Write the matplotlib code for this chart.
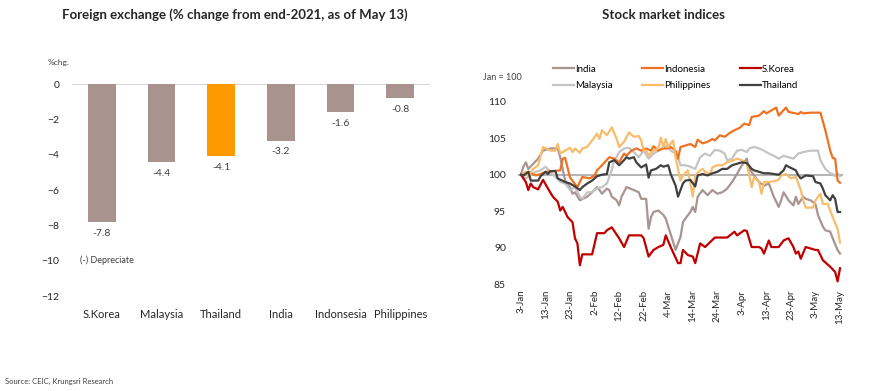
import matplotlib
matplotlib.use('Agg')
import matplotlib.pyplot as plt
import pandas as pd

plt.rcParams['font.family'] = ['Lato', 'DejaVu Sans']

# left chart: FX % change
fx_countries = ['S.Korea', 'Malaysia', 'Thailand', 'India', 'Indonsesia', 'Philippines']
fx_change = [-7.8, -4.4, -4.1, -3.2, -1.6, -0.8]

# right chart: stock indices (days after 3-Jan-2022, value with Jan = 100)
india_days = [0, 1, 2, 3, 5, 7, 9, 12, 15, 16, 17, 18, 20, 21, 22, 24, 27, 29, 31, 32, 33, 35, 36, 37, 39, 40,
              41, 43, 46, 48, 49, 51, 52, 53, 54, 56, 58, 59, 60, 62, 63, 65, 66, 67, 69, 70, 71, 72, 74, 76,
              78, 80, 82, 84, 86, 88, 90, 92, 93, 95, 97, 99, 101, 102, 103, 105, 106, 107, 109, 111, 112, 113,
              115, 116, 118, 120, 121, 123, 124, 126, 127, 129, 130]
india_vals = [100, 101.1, 101.7, 100.8, 101.5, 102.2, 103.3, 103.6, 103.6, 102.4, 100.8, 99.2, 98.3, 97.4, 97.6,
              96.5, 97, 97.6, 98.3, 97.9, 97.4, 98.1, 97.9, 97, 96.5, 95.8, 97, 98.3, 97.9, 97.6, 96.7, 96.7,
              92.6, 94.2, 94.9, 95.1, 94.5, 94, 92.9, 90.8, 89.7, 91.5, 93.5, 94, 94.9, 95.6, 94.9, 97, 97.9,
              97.2, 97.9, 97.4, 97.6, 98.1, 99, 100.1, 101.3, 102.2, 100.8, 99.9, 99, 98.5, 98.8, 97.9, 97,
              95.6, 96.5, 97.6, 96.5, 95.8, 97, 96, 97, 96.7, 96.5, 96, 94.5, 92.9, 92.4, 92.2, 91.3, 89.7, 89.2]

indonesia_days = [0, 3, 6, 8, 10, 16, 17, 18, 20, 23, 24, 25, 28, 30, 31, 33, 36, 38, 40, 42, 43, 45, 47, 49, 51,
                  53, 54, 56, 58, 60, 61, 63, 64, 65, 67, 69, 71, 72, 74, 76, 78, 79, 81, 83, 85, 87, 89, 91, 93,
                  94, 97, 99, 100, 102, 104, 105, 108, 109, 112, 113, 114, 115, 118, 122, 124, 126, 127, 128,
                  129, 130]
indonesia_vals = [100, 100.4, 99.9, 100.1, 100.4, 100.6, 102.2, 102.3, 99.6, 98.3, 99, 99.7, 99.5, 99.9, 100.6,
                  101.3, 102.4, 102.2, 101.7, 102.9, 102.6, 103.3, 103.6, 103.3, 103.6, 103.3, 103.9, 103.3,
                  103.6, 103.6, 103.8, 103.3, 102.2, 103.8, 104, 104.2, 103.8, 104.8, 104.3, 104.5, 104.9, 104.7,
                  105.4, 105.2, 105.7, 106.1, 106.4, 107, 106.8, 107.9, 108.1, 108.7, 108.4, 108.8, 109.2, 108.1,
                  109.2, 108.6, 108.4, 108.3, 108.6, 108.4, 108.5, 108.5, 106.1, 103.3, 102.3, 102.2, 99.2, 98.9]

korea_days = [0, 2, 3, 4, 5, 7, 9, 11, 13, 15, 16, 17, 19, 21, 22, 23, 24, 25, 29, 31, 34, 35, 37, 40, 42, 44,
              49, 50, 52, 54, 56, 58, 59, 61, 64, 65, 66, 68, 70, 71, 73, 75, 79, 84, 87, 88, 91, 92, 94, 97,
              98, 99, 101, 102, 105, 107, 109, 111, 112, 113, 114, 116, 118, 120, 121, 123, 126, 128, 129, 130]
korea_vals = [100, 99, 97.9, 98.8, 98.3, 98, 99.3, 98.1, 97, 96.3, 95.1, 95.6, 94.2, 93.5, 91.3, 90.6, 87.6, 89.1,
              89.1, 92, 92, 92.4, 92.8, 91.3, 90.1, 91.7, 91.7, 91.3, 88.8, 89.7, 90.1, 90.4, 91.7, 90.1, 87.9,
              87.9, 89.7, 89, 88.8, 87.9, 90.6, 90.1, 91.4, 91.4, 92.2, 91.7, 92.4, 92.3, 90.1, 90.1, 89.9,
              89.2, 91, 90.1, 90.1, 91, 91.3, 90.1, 89.2, 89.5, 88.5, 90.1, 89.9, 89.7, 89.7, 88.3, 87.4, 86.7,
              85.4, 87.2]

malaysia_days = [0, 2, 4, 6, 8, 10, 12, 14, 16, 18, 20, 22, 24, 25, 27, 29, 31, 33, 35, 37, 38, 39, 40, 42, 44,
                 46, 48, 50, 52, 54, 56, 58, 60, 61, 63, 64, 65, 67, 69, 71, 73, 75, 77, 79, 81, 83, 84, 86, 88,
                 90, 92, 93, 95, 97, 99, 101, 103, 105, 107, 109, 111, 113, 115, 118, 121, 122, 124, 126, 127,
                 128, 129, 130]
malaysia_vals = [100, 99.5, 99.9, 100.4, 100.6, 101.1, 100.4, 99.7, 99, 98.8, 97.9, 98.3, 97, 96.7, 97.6, 97.6,
                 98.1, 98.3, 98.8, 100.6, 102.2, 102.4, 103.1, 103.6, 103.7, 103.1, 102.4, 103.3, 102.2, 102.9,
                 103.3, 103.8, 104, 103.3, 102.9, 102.4, 101.3, 101.3, 101.1, 100.8, 102.4, 102.9, 102.6, 103.4,
                 103.3, 102.9, 102, 102.2, 103.3, 103.4, 103.1, 103.6, 103.8, 103.6, 103.3, 102.9, 102.6, 102.2,
                 102.6, 102.4, 102.2, 102.9, 103.1, 103.3, 103.3, 102, 100.8, 100.2, 100.1, 99.8, 100.2, 99.8]

phil_days = [0, 2, 3, 5, 7, 9, 12, 14, 15, 16, 18, 20, 21, 22, 24, 25, 27, 29, 31, 32, 33, 35, 37, 39, 40, 42,
             44, 46, 48, 49, 50, 51, 52, 54, 56, 57, 58, 59, 60, 62, 63, 65, 66, 68, 69, 70, 71, 73, 74, 75, 77,
             78, 80, 82, 84, 86, 88, 90, 92, 94, 95, 97, 98, 99, 101, 103, 105, 106, 108, 110, 112, 113, 114,
             115, 116, 119, 120, 122, 123, 125, 127, 129, 130]
phil_vals = [100, 100.4, 99.7, 100.8, 101.3, 103.8, 103.3, 103.3, 104.2, 102.9, 103.3, 103.7, 103.1, 103.6, 103,
             103.6, 103.8, 104.7, 105.6, 104.9, 106.1, 105.4, 106.5, 104.9, 103.8, 104.5, 105.8, 105.2, 105.3,
             104.7, 103.3, 103.3, 102.6, 103.3, 103.6, 105.1, 103.8, 104.9, 103.8, 104.7, 102.4, 99.2, 99.9,
             100.6, 98.8, 97, 99.9, 100.6, 100.8, 100.4, 100.1, 101, 101.3, 101.3, 101.7, 101.9, 102.2, 102,
             101.5, 98.3, 99.7, 99, 97.4, 99, 99, 99.1, 99.3, 99.9, 100.1, 99.5, 99.7, 98.8, 97.9, 96.5, 95.5,
             95.5, 96.5, 97.4, 96, 96, 94.2, 92.6, 90.7]

thai_days = [0, 1, 3, 4, 7, 8, 10, 11, 12, 14, 15, 18, 20, 22, 24, 25, 27, 29, 31, 33, 35, 36, 38, 40, 42, 43,
             44, 46, 47, 49, 51, 52, 53, 55, 57, 58, 60, 61, 63, 64, 66, 67, 69, 71, 72, 74, 76, 78, 80, 82, 84,
             86, 88, 90, 92, 94, 95, 97, 99, 101, 103, 105, 107, 108, 109, 112, 113, 114, 116, 119, 120, 122,
             123, 124, 126, 127, 128, 129, 130]
thai_vals = [100, 99.9, 100.4, 99.2, 99.2, 99.8, 100.4, 100.1, 100.5, 100.5, 99.5, 99, 98.8, 98.4, 97.9, 98.3,
             98.8, 99.2, 99.8, 100, 100.1, 101.7, 102, 101.3, 102, 102.4, 102.2, 102.4, 101.7, 101, 101.4, 99.6,
             100.6, 100.8, 101.3, 101.1, 101.3, 100.1, 98.5, 97, 98.8, 99.2, 99.3, 98.4, 99.9, 100.1, 99.9,
             100.2, 100.4, 100.8, 100.8, 101.3, 101.5, 101.7, 101.6, 100.8, 100.6, 100.4, 100.2, 100.2, 100.1,
             100, 100.6, 101.3, 101.1, 100.6, 99.9, 99.5, 99.9, 99.8, 99, 98.8, 98.1, 97.2, 96.5, 97.2, 96.7,
             94.9, 94.9]

start = pd.Timestamp('2022-01-03')
tick_dates = pd.date_range(start, '2022-05-13', freq='10D')

fig = plt.figure(figsize=(8.7, 3.91), dpi=100)

# ---------- left: bars ----------
ax1 = fig.add_axes([72 / 870, 1 - 296 / 391, 358 / 870, 212 / 391])
bar_colors = ['#ff9900' if c == 'Thailand' else '#a8938f' for c in fx_countries]
pos = range(len(fx_countries))
bars = ax1.bar(pos, fx_change, width=0.46, color=bar_colors)
ax1.axhline(0, color='#d0d0d0', lw=1.2, zorder=0)
for b, v in zip(bars, fx_change):
    ax1.annotate(f'{v:.1f}', (b.get_x() + b.get_width() / 2, v), xytext=(0, -5),
                 textcoords='offset points', ha='center', va='top', fontsize=7.5, color='#404040')
ax1.set_xlim(-0.5, 5.5)
ax1.set_ylim(-12, 0)
ax1.set_yticks(range(-12, 1, 2))
ax1.set_xticks(list(pos))
ax1.set_xticklabels(fx_countries, fontsize=8, color='#262626')
ax1.tick_params(axis='y', labelsize=7.5, labelcolor='#262626', length=0, pad=9)
ax1.tick_params(axis='x', length=0, pad=9)
for s in ax1.spines.values():
    s.set_visible(False)
ax1.text(-0.37, -10, '(-) Depreciate', fontsize=6.5, color='#404040', va='center', ha='left')
fig.text(48 / 870, 1 - 63 / 391, '%chg.', fontsize=6, color='#404040', va='center')
fig.text(235 / 870, 1 - 15 / 391, 'Foreign exchange (% change from end-2021, as of May 13)',
         fontsize=9.5, fontweight='bold', ha='center', va='center', color='#262626')

# ---------- right: lines ----------
ax2 = fig.add_axes([518.5 / 870, 1 - 284.3 / 391, 324 / 870, 182.6 / 391])
series = [
    ('India', india_days, india_vals, '#a89490'),
    ('Malaysia', malaysia_days, malaysia_vals, '#c4c4c4'),
    ('Indonesia', indonesia_days, indonesia_vals, '#ee7222'),
    ('Philippines', phil_days, phil_vals, '#f8bd6b'),
    ('S.Korea', korea_days, korea_vals, '#c00000'),
    ('Thailand', thai_days, thai_vals, '#404040'),
]
ax2.axhline(100, color='#a6a6a6', lw=1.2, zorder=0)
for name, d, v, col in series:
    x = start + pd.to_timedelta(d, unit='D')
    ax2.plot(x, v, color=col, lw=1.6, label=name)
ax2.set_xlim(start - pd.Timedelta(days=1), start + pd.Timedelta(days=131))
ax2.set_ylim(85, 110)
ax2.set_yticks(range(85, 111, 5))
ax2.set_xticks(tick_dates)
ax2.set_xticklabels([f'{d.day}-{d:%b}' for d in tick_dates], rotation=90, fontsize=7)
ax2.tick_params(axis='both', length=0, labelcolor='#262626')
ax2.tick_params(axis='y', labelsize=7.5, pad=9)
ax2.tick_params(axis='x', pad=4)
for s in ax2.spines.values():
    s.set_visible(False)
ax2.legend(ncol=3, loc='lower left', bbox_to_anchor=(0.106, 1.064), frameon=False, fontsize=7,
           handlelength=2.2, handletextpad=0.1, columnspacing=3.0, labelspacing=0.75,
           borderaxespad=0, borderpad=0)
fig.text(483 / 870, 1 - 78 / 391, 'Jan = 100', fontsize=6.5, color='#404040', va='center')
fig.text(663 / 870, 1 - 15 / 391, 'Stock market indices', fontsize=9.5, fontweight='bold',
         ha='center', va='center', color='#262626')

fig.text(5 / 870, 1 - 381 / 391, 'Source: CEIC, Krungsri Research', fontsize=5.5, color='#404040',
         va='center')

fig.savefig('out.png', dpi=100)
